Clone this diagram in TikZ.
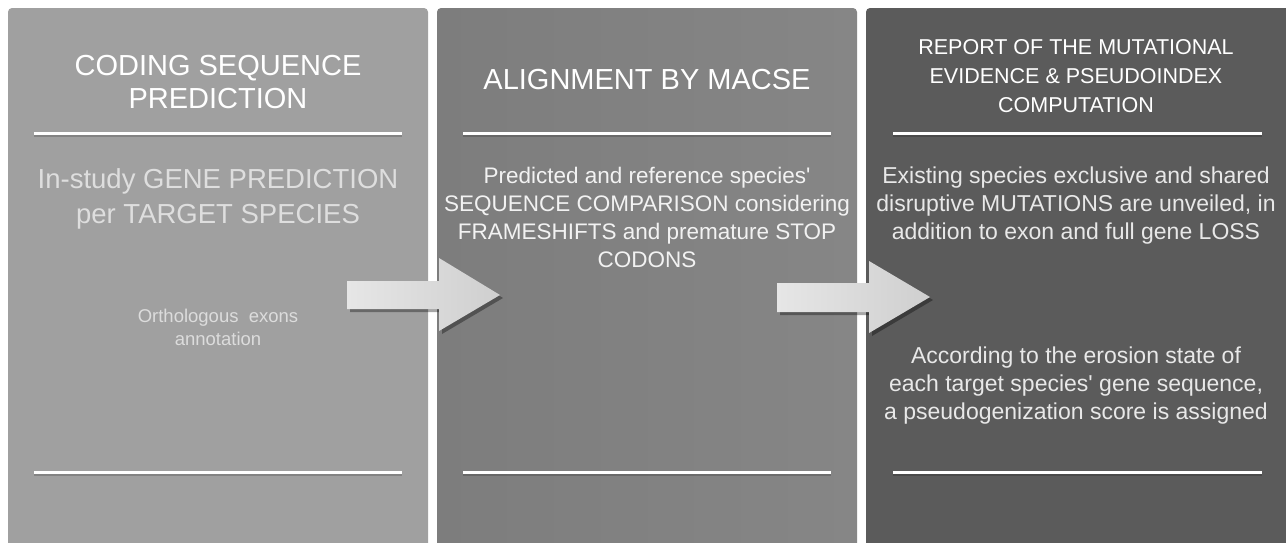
\documentclass[tikz,border=0pt]{standalone}
\usepackage{fontspec}
\setmainfont{Liberation Sans}
\definecolor{pone}{HTML}{A0A0A0}
\definecolor{ptwoL}{HTML}{7D7D7D}
\definecolor{ptwoR}{HTML}{868686}
\definecolor{pthree}{HTML}{5B5B5B}
\definecolor{arrL}{HTML}{E6E6E6}
\definecolor{arrD}{HTML}{CFCFCF}
\tikzset{
  panel/.style={rounded corners=4pt},
  sepline/.style={white, line width=3pt},
  sepshadow/.style={black, opacity=0.18, line width=2pt},
  txt/.style={inner sep=0pt, align=center, anchor=base},
  arrowshape/.style={left color=arrL, right color=arrD, draw=none},
  arrowshadow/.style={fill=black, opacity=0.35},
}
\newcommand{\sq}{\textquotesingle}
\begin{document}
\begin{tikzpicture}[x=1pt,y=-1pt]
\useasboundingbox (0,0) rectangle (1286,542);
\fill[white] (0,0) rectangle (1286,542);
\begin{scope}
\clip (0,0) rectangle (1286,542);
% panels
\fill[panel, pone] (8,8) rectangle (428,560);
\shade[panel, left color=ptwoL, right color=ptwoR] (437,8) rectangle (857,560);
\fill[panel, pthree] (866,8) rectangle (1300,560);
\end{scope}
% separator lines
\foreach \a/\b in {34/402, 463/831, 893/1262}{
  \draw[sepshadow] (\a,135.5) -- (\b,135.5);
  \draw[sepline] (\a,133) -- (\b,133);
  \draw[sepshadow] (\a,474.5) -- (\b,474.5);
  \draw[sepline] (\a,472) -- (\b,472);
}
% panel 1
\node[txt, white, font={\fontsize{29}{33}\selectfont}] (t1) at (218,108) {CODING SEQUENCE\\PREDICTION};
\node[txt, color={rgb,255:red,222;green,222;blue,222}, font={\fontsize{27.5}{35}\selectfont}] (b1) at (218,223) {In-study GENE PREDICTION\\per TARGET SPECIES};
\node[txt, color={rgb,255:red,220;green,220;blue,220}, font={\fontsize{18.5}{23}\selectfont}] (o1) at (218,345) {Orthologous\ \ exons\\annotation};
% panel 2
\node[txt, white, font={\fontsize{29}{33}\selectfont}] (t2) at (647,89) {ALIGNMENT BY MACSE};
\node[txt, color={rgb,255:red,242;green,242;blue,242}, font={\fontsize{22.5}{28}\selectfont}] (b2) at (647,267) {Predicted and reference species\sq\\SEQUENCE COMPARISON considering\\FRAMESHIFTS and premature STOP\\CODONS};
% panel 3
\node[txt, white, font={\fontsize{21.5}{29}\selectfont}] (t3) at (1076,112) {REPORT OF THE MUTATIONAL\\EVIDENCE \& PSEUDOINDEX\\COMPUTATION};
\node[txt, color={rgb,255:red,232;green,232;blue,232}, font={\fontsize{23}{28}\selectfont}] (b3) at (1076,239) {Existing species exclusive and shared\\disruptive MUTATIONS are unveiled, in\\addition to exon and full gene LOSS};
\node[txt, color={rgb,255:red,232;green,232;blue,232}, font={\fontsize{23}{28}\selectfont}] (c3) at (1076,419) {According to the erosion state of\\each target species\sq\ gene sequence,\\a pseudogenization score is assigned};
% arrows
\fill[arrowshadow] (350,284) -- (442,284) -- (442,261) -- (503,298) -- (442,334) -- (442,312) -- (350,312) -- cycle;
\shade[arrowshape] (347,281) -- (439,281) -- (439,258) -- (500,295) -- (439,331) -- (439,309) -- (347,309) -- cycle;
\fill[arrowshadow] (780,286) -- (872,286) -- (872,264) -- (933,300) -- (872,336) -- (872,315) -- (780,315) -- cycle;
\shade[arrowshape] (777,283) -- (869,283) -- (869,261) -- (930,297) -- (869,333) -- (869,312) -- (777,312) -- cycle;
\end{tikzpicture}
\end{document}
